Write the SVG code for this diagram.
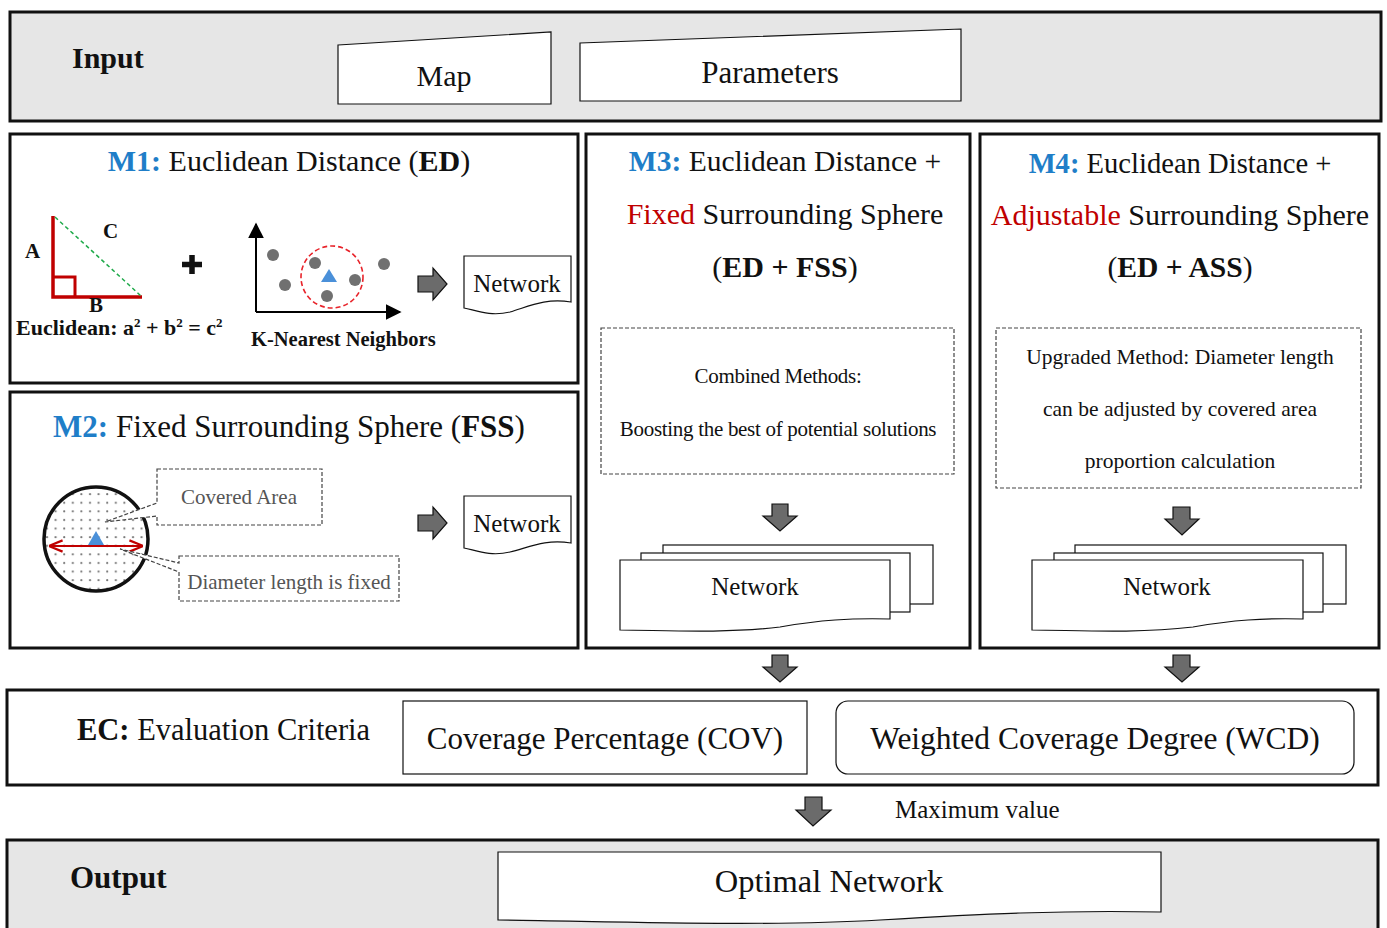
<svg xmlns="http://www.w3.org/2000/svg" width="1387" height="928" viewBox="0 0 1387 928">
<style>
.t{font-family:"Liberation Serif","DejaVu Serif",serif;fill:#111}
.b{font-weight:bold}
.blue{fill:#1f7ec8;font-weight:bold}
.red{fill:#c00000}
.panel{fill:#e6e6e6;stroke:#111;stroke-width:3}
.box{fill:#fff;stroke:#111;stroke-width:3}
.thin{fill:#fff;stroke:#111;stroke-width:1.2}
.dash{fill:#fff;stroke:#444;stroke-width:1.2;stroke-dasharray:4 2}
.arr{fill:#6b6b6b;stroke:#111;stroke-width:1.2}
.gray{fill:#555}
</style>
<defs>
<pattern id="dots" width="8.6" height="8.6" patternUnits="userSpaceOnUse">
<circle cx="4" cy="4" r="1.1" fill="#777"/>
</pattern>
<marker id="ah" viewBox="0 0 10 10" refX="9" refY="5" markerWidth="8" markerHeight="8" orient="auto"><path d="M0,0 L10,5 L0,10 z" fill="#000"/></marker>
<marker id="rh" viewBox="0 0 10 10" refX="9" refY="5" markerWidth="7" markerHeight="7" orient="auto-start-reverse"><path d="M0,1 L10,5 L0,9" fill="none" stroke="#c00000" stroke-width="1.6"/></marker>
</defs>

<g id="input">
<rect class="panel" x="10" y="12" width="1371" height="109"/>
<text class="t b" x="72" y="68" font-size="30">Input</text>
<g id="map"><polygon class="thin" points="338,45 551,32 551,104 338,104"/>
<text class="t" x="444" y="86" font-size="30" text-anchor="middle">Map</text></g>
<g id="parameters"><polygon class="thin" points="580,43 961,29 961,101 580,101"/>
<text class="t" x="770" y="83" font-size="31" text-anchor="middle">Parameters</text></g>
</g>

<g id="m1">
<rect class="box" x="10" y="134" width="568" height="249"/>
<text class="t" x="289" y="171" font-size="30" text-anchor="middle"><tspan class="blue">M1:</tspan> Euclidean Distance (<tspan class="b">ED</tspan>)</text>
<path d="M53,216 V297 H142" fill="none" stroke="#c00000" stroke-width="3.5"/>
<path d="M53,277 H75 V297" fill="none" stroke="#c00000" stroke-width="3"/>
<line x1="55" y1="217" x2="141" y2="296" stroke="#1faa4a" stroke-width="1.5" stroke-dasharray="4 3"/>
<text class="t b" x="25" y="258" font-size="21">A</text>
<text class="t b" x="103" y="238" font-size="21">C</text>
<text class="t b" x="89" y="312" font-size="21">B</text>
<text class="t b" x="16" y="335" font-size="22">Euclidean: a<tspan font-size="13" dy="-8">2</tspan><tspan dy="8"> + b</tspan><tspan font-size="13" dy="-8">2</tspan><tspan dy="8"> = c</tspan><tspan font-size="13" dy="-8">2</tspan></text>
<path d="M192,255 V274 M182,264.5 H202" stroke="#111" stroke-width="5.5"/>
<line x1="256" y1="312" x2="256" y2="224" stroke="#000" stroke-width="2" marker-end="url(#ah)"/>
<line x1="256" y1="312" x2="400" y2="312" stroke="#000" stroke-width="2" marker-end="url(#ah)"/>
<g fill="#707070">
<circle cx="273" cy="255" r="6"/><circle cx="285" cy="285" r="6"/><circle cx="315" cy="263" r="6"/>
<circle cx="327" cy="296" r="6"/><circle cx="355" cy="280" r="6"/><circle cx="384" cy="264" r="6"/>
</g>
<circle cx="332" cy="277" r="31" fill="none" stroke="#e8232a" stroke-width="1.6" stroke-dasharray="5 3"/>
<polygon points="329,269 337,282 321,282" fill="#4a90d9"/>
<text class="t b" x="251" y="346" font-size="20.5">K-Nearest Neighbors</text>
<polygon class="arr" points="418,276 433,276 433,268 447,284 433,300 433,292 418,292"/>
<g id="m1-network"><path class="thin" d="M464,256 H571 V302 C545,298 530,306 510,312 C490,317 475,310 464,308 Z"/>
<text class="t" x="517" y="292" font-size="25" text-anchor="middle">Network</text></g>
</g>

<g id="m2">
<rect class="box" x="10" y="392" width="568" height="256"/>
<text class="t" x="289" y="437" font-size="31" text-anchor="middle"><tspan class="blue">M2:</tspan> Fixed Surrounding Sphere (<tspan class="b">FSS</tspan>)</text>
<circle cx="96" cy="539" r="52" fill="#fff"/>
<circle cx="96" cy="539" r="52" fill="url(#dots)" stroke="#111" stroke-width="3.5"/>
<polygon points="96,531 104,545 88,545" fill="#4a90d9"/>
<line x1="50" y1="546" x2="142" y2="546" stroke="#c00000" stroke-width="2" marker-start="url(#rh)" marker-end="url(#rh)"/>
<path class="dash" d="M157,469 H322 V525 H157 V516 L105,522 L157,503 Z" stroke="#333"/>
<text class="t gray" x="239" y="504" font-size="21" text-anchor="middle">Covered Area</text>
<path class="dash" d="M179,556 H399 V601 H179 V572 L120,549 L179,563 Z" stroke="#333"/>
<text class="t gray" x="289" y="589" font-size="21" text-anchor="middle">Diameter length is fixed</text>
<polygon class="arr" points="418,515 433,515 433,507 447,523 433,539 433,531 418,531"/>
<g id="m2-network"><path class="thin" d="M464,496 H571 V543 C545,539 530,547 510,552 C490,557 475,550 464,548 Z"/>
<text class="t" x="517" y="532" font-size="25" text-anchor="middle">Network</text></g>
</g>

<g id="m3">
<rect class="box" x="586" y="134" width="384" height="514"/>
<text class="t" x="785" y="171" font-size="29.5" text-anchor="middle"><tspan class="blue">M3:</tspan> Euclidean Distance +</text>
<text class="t" x="785" y="224" font-size="30" text-anchor="middle"><tspan class="red">Fixed</tspan> Surrounding Sphere</text>
<text class="t" x="785" y="277" font-size="30" text-anchor="middle">(<tspan class="b">ED + FSS</tspan>)</text>
<rect class="dash" x="601" y="328" width="353" height="146"/>
<text class="t" x="778" y="383" font-size="21" text-anchor="middle" letter-spacing="-0.3">Combined Methods:</text>
<text class="t" x="778" y="436" font-size="21" text-anchor="middle" letter-spacing="-0.3">Boosting the best of potential solutions</text>
<polygon class="arr" points="772,504 788,504 788,516 797,516 780,531 763,516 772,516"/>
<g id="m3-network">
<rect class="thin" x="663" y="545" width="270" height="59"/>
<rect class="thin" x="641" y="553" width="269" height="59"/>
<path class="thin" d="M620,560 H890 V619 C850,618 820,620 780,627 C720,634 660,630 620,630 Z"/>
<text class="t" x="755" y="595" font-size="25" text-anchor="middle">Network</text>
</g>
</g>

<g id="m4">
<rect class="box" x="980" y="134" width="399" height="514"/>
<text class="t" x="1180" y="173" font-size="28.6" text-anchor="middle"><tspan class="blue">M4:</tspan> Euclidean Distance +</text>
<text class="t" x="1180" y="225" font-size="30" text-anchor="middle"><tspan class="red">Adjustable</tspan> Surrounding Sphere</text>
<text class="t" x="1180" y="277" font-size="29.6" text-anchor="middle">(<tspan class="b">ED + ASS</tspan>)</text>
<rect class="dash" x="996" y="328" width="365" height="160"/>
<text class="t" x="1180" y="364" font-size="21.5" text-anchor="middle">Upgraded Method: Diameter length</text>
<text class="t" x="1180" y="416" font-size="21.5" text-anchor="middle">can be adjusted by covered area</text>
<text class="t" x="1180" y="468" font-size="21.5" text-anchor="middle">proportion calculation</text>
<polygon class="arr" points="1173,507 1190,507 1190,519 1199,519 1182,535 1165,519 1173,519"/>
<g id="m4-network">
<rect class="thin" x="1075" y="545" width="271" height="59"/>
<rect class="thin" x="1054" y="553" width="269" height="59"/>
<path class="thin" d="M1032,560 H1303 V619 C1263,618 1233,620 1193,627 C1133,634 1073,630 1032,630 Z"/>
<text class="t" x="1167" y="595" font-size="25" text-anchor="middle">Network</text>
</g>
</g>

<g id="connectors">
<polygon class="arr" points="772,655 788,655 788,667 797,667 780,682 763,667 772,667"/>
<polygon class="arr" points="1173,655 1190,655 1190,667 1199,667 1182,682 1165,667 1173,667"/>
<polygon class="arr" points="805,797 822,797 822,810 831,810 813,826 796,810 805,810"/>
<text class="t" x="895" y="818" font-size="25">Maximum value</text>
</g>

<g id="ec">
<rect class="box" x="7" y="690" width="1371" height="95"/>
<text class="t" x="77" y="740" font-size="30.5"><tspan class="b">EC:</tspan> Evaluation Criteria</text>
<g id="cov"><rect class="thin" x="403" y="701" width="404" height="73"/>
<text class="t" x="605" y="749" font-size="31" text-anchor="middle">Coverage Percentage (COV)</text></g>
<g id="wcd"><rect class="thin" x="836" y="701" width="518" height="73" rx="12"/>
<text class="t" x="1095" y="749" font-size="31.5" text-anchor="middle">Weighted Coverage Degree (WCD)</text></g>
</g>

<g id="output">
<rect class="panel" x="7" y="840" width="1371" height="100"/>
<text class="t b" x="70" y="888" font-size="31">Output</text>
<g id="optimal"><path class="thin" d="M498,852 H1161 V912 C1060,910 980,914 880,920 C760,927 600,921 498,920 Z"/>
<text class="t" x="829" y="892" font-size="32.5" text-anchor="middle">Optimal Network</text></g>
</g>
</svg>
